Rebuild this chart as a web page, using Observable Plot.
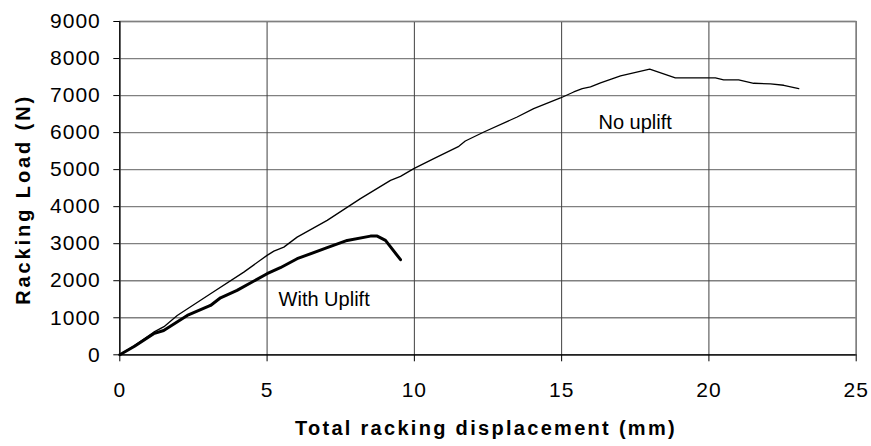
<!DOCTYPE html>
<html>
<head>
<meta charset="utf-8">
<script src="https://cdn.jsdelivr.net/npm/d3@7"></script>
<script src="https://cdn.jsdelivr.net/npm/@observablehq/plot@0.6"></script>
<style>
  html, body { margin: 0; padding: 0; background: #fff; }
  svg text { font-family: "Liberation Sans", Arial, sans-serif; }
  .ticks text { letter-spacing: 1px; }
  .xtitle text { letter-spacing: 2.3px; }
  .ytitle text { letter-spacing: 2.9px; }
</style>
</head>
<body>
<div id="chart"></div>
<script>
// ---- data ----
const noUpliftX = [0, 0.5, 1.15, 1.5, 1.95, 3.08, 4.21, 4.78, 5.0, 5.23, 5.57, 6.02, 7.04, 8.17, 9.19, 9.53, 9.98, 10.66, 11.51, 11.73, 12.36, 13.49, 14.05, 14.96, 15.41, 15.70, 15.98, 16.32, 17.0, 17.99, 18.86, 20.22, 20.5, 21.01, 21.52, 22.09, 22.54, 23.05];
const noUpliftY = [0, 250, 611, 760, 1062, 1649, 2232, 2560, 2684, 2800, 2908, 3178, 3630, 4216, 4711, 4819, 5027, 5297, 5630, 5773, 6016, 6422, 6649, 6935, 7097, 7189, 7232, 7341, 7530, 7711, 7476, 7476, 7422, 7422, 7332, 7314, 7278, 7189];
const withUpliftX = [0, 0.5, 1.15, 1.49, 2.29, 3.08, 3.42, 3.98, 5.0, 5.45, 6.02, 7.04, 7.72, 8.51, 8.74, 9.02, 9.53];
const withUpliftY = [0, 230, 570, 657, 1062, 1332, 1540, 1738, 2189, 2351, 2595, 2892, 3089, 3205, 3205, 3089, 2568];
const xTicks = [0, 5, 10, 15, 20, 25];
const yTicks = [0, 1000, 2000, 3000, 4000, 5000, 6000, 7000, 8000, 9000];
const labels = [
  {text: "No uplift", x: 16.25, y: 6278},
  {text: "With Uplift", x: 5.39, y: 1495}
];
const xTitle = "Total racking displacement (mm)";
const yTitle = "Racking Load (N)";

const noUplift = noUpliftX.map((x, i) => ({x, y: noUpliftY[i]}));
const withUplift = withUpliftX.map((x, i) => ({x, y: withUpliftY[i]}));

// title anchors, placed through the scales (outside the domain, in the margins)
const xTitlePos = [{text: xTitle, x: 12.43, y: -2003}];
const yTitlePos = [{text: yTitle, x: -3.27, y: 4197}];

const chart = Plot.plot({
  width: 871,
  height: 446,
  marginLeft: 119.3,
  marginRight: 15.3,
  marginTop: 21,
  marginBottom: 91.7,
  style: {fontFamily: "Liberation Sans, Arial, sans-serif", fontSize: "21px", background: "#fff", color: "#000", overflow: "visible"},
  x: {domain: [0, 25], label: null},
  y: {domain: [0, 9000], label: null},
  marks: [
    Plot.ruleY(yTicks, {stroke: "#808080", strokeWidth: 1.3}),
    Plot.ruleX(xTicks, {stroke: "#404040", strokeWidth: 1}),
    Plot.frame({stroke: "#808080", strokeWidth: 1.3}),
    Plot.ruleX([0], {stroke: "#000", strokeWidth: 1.2}),
    Plot.ruleY([0], {stroke: "#000", strokeWidth: 1.2}),
    Plot.axisY({ticks: yTicks, tickSize: 6, tickPadding: 13, tickFormat: d => String(d), className: "ticks", stroke: "#000", fill: "#000", label: null}),
    Plot.axisX({ticks: xTicks, tickSize: 7, tickPadding: 20, tickFormat: d => String(d), className: "ticks", stroke: "#000", fill: "#000", label: null}),
    Plot.line(noUplift, {x: "x", y: "y", stroke: "#000", strokeWidth: 1.3}),
    Plot.line(withUplift, {x: "x", y: "y", stroke: "#000", strokeWidth: 3}),
    Plot.text(labels, {x: "x", y: "y", text: "text", textAnchor: "start", fill: "#000", fontSize: 20}),
    Plot.text(xTitlePos, {x: "x", y: "y", text: "text", fontWeight: "bold", fontSize: 20, fill: "#000", className: "xtitle"}),
    Plot.text(yTitlePos, {x: "x", y: "y", text: "text", rotate: -90, fontWeight: "bold", fontSize: 20, fill: "#000", className: "ytitle"})
  ]
});
document.getElementById("chart").appendChild(chart);
</script>
</body>
</html>
